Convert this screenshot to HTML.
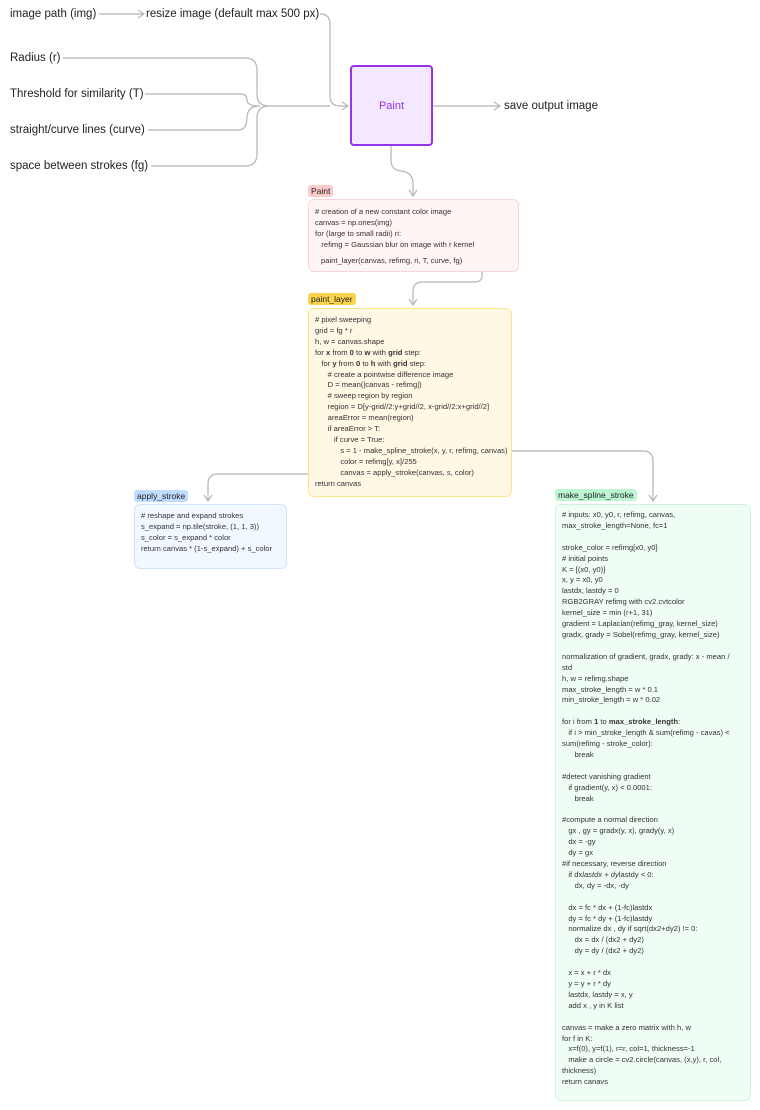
<!DOCTYPE html>
<html><head><meta charset="utf-8"><style>
body{margin:0;width:760px;height:1110px;background:#fff;position:relative;font-family:"Liberation Sans",sans-serif;overflow:hidden}
.t{position:absolute;font-size:11.5px;color:#222;white-space:nowrap;line-height:14px}
.lab{position:absolute;font-size:8.5px;color:#222;border-radius:3px;padding:0 3px;line-height:12px;height:12px}
.box{position:absolute;border-radius:6px;box-sizing:border-box}
.code{position:absolute;font-size:7.6px;color:#333;white-space:pre;line-height:10.9px}
b{font-weight:bold}
svg{position:absolute;left:0;top:0}
</style></head><body>
<svg width="760" height="1110" fill="none" stroke="#b5b5b5" stroke-width="1.2">
<path d="M99 14 H143"/><path d="M138 10 L144 14 L138 18"/>
<path d="M320 14 Q330 14 330 24 V96 Q330 106 340 106 H348"/><path d="M342 102 L348 106 L342 110"/>
<path d="M63 58 H245 Q257 58 257 70 V94 Q257 106 269 106 H330"/>
<path d="M145 94 H240 Q247 94 247 100 Q247 106 260 106"/>
<path d="M148 130 H238 Q247 130 247 118 Q247 106 260 106"/>
<path d="M151 166 H245 Q257 166 257 154 V118 Q257 106 269 106"/>
<path d="M432 106 H500"/><path d="M494 102 L500 106 L494 110"/>
<path d="M391 146 V160 Q391 170 401 171 Q413 172 413 184 V195"/><path d="M409 190 L413 196 L417 190"/>
<path d="M468 262 H476 Q482 262 482 270 V276 Q482 282 474 282 H422 Q413 282 413 292 V304"/><path d="M409 299 L413 305 L417 299"/>
<path d="M506 451 H643 Q653 451 653 461 V500"/><path d="M649 495 L653 501 L657 495"/>
<path d="M336 474 H218 Q208 474 208 484 V500"/><path d="M204 495 L208 501 L212 495"/>
</svg>
<div class="t" style="left:10px;top:7px">image path (img)</div>
<div class="t" style="left:146px;top:7px">resize image (default max 500 px)</div>
<div class="t" style="left:10px;top:51px">Radius (r)</div>
<div class="t" style="left:10px;top:87px">Threshold for similarity (T)</div>
<div class="t" style="left:10px;top:123px">straight/curve lines (curve)</div>
<div class="t" style="left:10px;top:159px">space between strokes (fg)</div>
<div class="t" style="left:504px;top:99px">save output image</div>
<div class="box" style="left:350px;top:65px;width:83px;height:81px;background:#f3e8ff;border:2px solid #9333ea;border-radius:4px"></div>
<div class="t" style="left:350px;top:99px;width:83px;text-align:center;color:#9333ea;font-size:11px">Paint</div>

<div class="lab" style="left:308px;top:185px;background:#fecaca">Paint</div>
<div class="box" style="left:308px;top:199px;width:211px;height:73px;background:#fff5f5;border:1px solid #fbd5d5"></div>
<div class="code" style="left:315px;top:207px"># creation of a new constant color image
canvas = np.ones(img)
for (large to small radii) ri:
   refimg = Gaussian blur on image with r kernel</div>
<div class="code" style="left:321px;top:256px">paint_layer(canvas, refimg, ri, T, curve, fg)</div>

<div class="lab" style="left:308px;top:293px;background:#fcd34d">paint_layer</div>
<div class="box" style="left:308px;top:308px;width:204px;height:189px;background:#fef8e4;border:1px solid #fde68a"></div>
<div class="code" style="left:315px;top:315px"># pixel sweeping
grid = fg * r
h, w = canvas.shape
for <b>x</b> from <b>0</b> to <b>w</b> with <b>grid</b> step:
   for <b>y</b> from <b>0</b> to <b>h</b> with <b>grid</b> step:
      # create a pointwise difference image
      D = mean(|canvas - refimg|)
      # sweep region by region
      region = D[y-grid//2:y+grid//2, x-grid//2:x+grid//2]
      areaError = mean(region)
      if areaError &gt; T:
         if curve = True:
            s = 1 - make_spline_stroke(x, y, r, refimg, canvas)
            color = refimg[y, x]/255
            canvas = apply_stroke(canvas, s, color)
return canvas</div>

<div class="lab" style="left:134px;top:490px;background:#bfdbfe">apply_stroke</div>
<div class="box" style="left:134px;top:504px;width:153px;height:65px;background:#f2f8ff;border:1px solid #cfe3fb"></div>
<div class="code" style="left:141px;top:511px"># reshape and expand strokes
s_expand = np.tile(stroke, (1, 1, 3))
s_color = s_expand * color
return canvas * (1-s_expand) + s_color</div>

<div class="lab" style="left:555px;top:489px;background:#bbf7d0">make_spline_stroke</div>
<div class="box" style="left:555px;top:504px;width:196px;height:597px;background:#f0fdf4;border:1px solid #d1f3dc"></div>
<div class="code" style="left:562px;top:510px"># inputs: x0, y0, r, refimg, canvas,
max_stroke_length=None, fc=1

stroke_color = refimg[x0, y0]
# initial points
K = [(x0, y0)]
x, y = x0, y0
lastdx, lastdy = 0
RGB2GRAY refimg with cv2.cvtcolor
kernel_size = min (r+1, 31)
gradient = Laplacian(refimg_gray, kernel_size)
gradx, grady = Sobel(refimg_gray, kernel_size)

normalization of gradient, gradx, grady: x - mean /
std
h, w = refimg.shape
max_stroke_length = w * 0.1
min_stroke_length = w * 0.02

for i from <b>1</b> to <b>max_stroke_length</b>:
   if i &gt; min_stroke_length &amp; sum(refimg - cavas) &lt;
sum(refimg - stroke_color):
      break

#detect vanishing gradient
   if gradient(y, x) &lt; 0.0001:
      break

#compute a normal direction
   gx , gy = gradx(y, x), grady(y, x)
   dx = -gy
   dy = gx
#if necessary, reverse direction
   if dx<i>lastdx + dy</i>lastdy &lt; 0:
      dx, dy = -dx, -dy

   dx = fc * dx + (1-fc)lastdx
   dy = fc * dy + (1-fc)lastdy
   normalize dx , dy if sqrt(dx2+dy2) != 0:
      dx = dx / (dx2 + dy2)
      dy = dy / (dx2 + dy2)

   x = x + r * dx
   y = y + r * dy
   lastdx, lastdy = x, y
   add x , y in K list

canvas = make a zero matrix with h, w
for f in K:
   x=f(0), y=f(1), r=r, col=1, thickness=-1
   make a circle = cv2.circle(canvas, (x,y), r, col,
thickness)
return canavs</div>
</body></html>
